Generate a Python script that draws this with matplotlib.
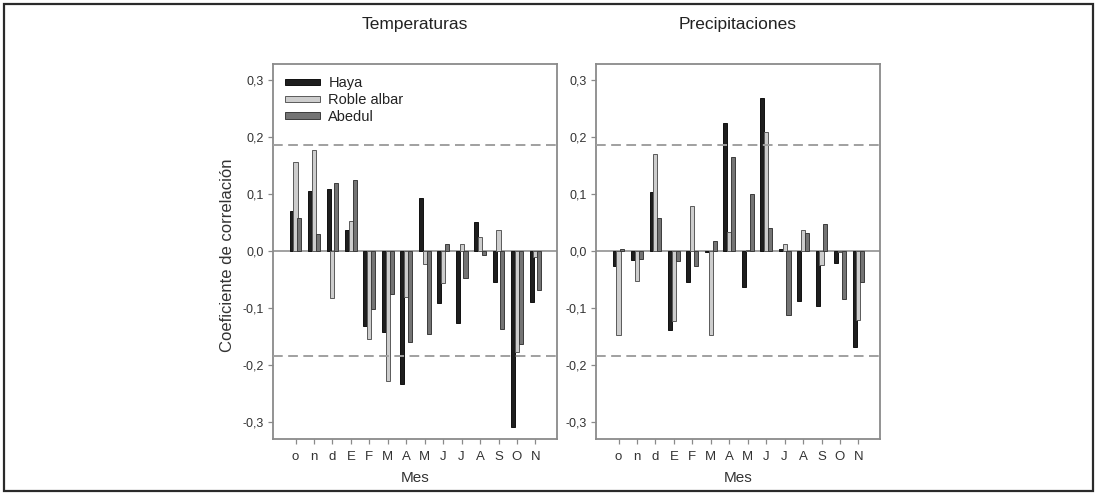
import matplotlib
matplotlib.use("Agg")
import matplotlib.pyplot as plt
from matplotlib.patches import Rectangle, Patch
import numpy as np

plt.rcParams['font.family'] = ['Liberation Sans', 'DejaVu Sans']

months = ["o", "n", "d", "E", "F", "M", "A", "M", "J", "J", "A", "S", "O", "N"]
species = ["Haya", "Roble albar", "Abedul"]

temp_haya   = [0.070, 0.105, 0.109, 0.036, -0.131, -0.143, -0.233, 0.093, -0.092, -0.126, 0.051, -0.054, -0.309, -0.090]
temp_roble  = [0.156, 0.177, -0.083, 0.052, -0.155, -0.229, -0.080, -0.023, -0.057, 0.012, 0.024, 0.036, -0.178, -0.010]
temp_abedul = [0.057, 0.030, 0.119, 0.124, -0.102, -0.075, -0.160, -0.146, 0.013, -0.047, -0.007, -0.137, -0.164, -0.068]

prec_haya   = [-0.026, -0.016, 0.104, -0.139, -0.055, -0.002, 0.225, -0.064, 0.268, 0.004, -0.087, -0.096, -0.021, -0.168]
prec_roble  = [-0.147, -0.053, 0.170, -0.123, 0.079, -0.148, 0.033, 0.002, 0.209, 0.012, 0.037, -0.024, -0.002, -0.122]
prec_abedul = [0.004, -0.014, 0.058, -0.018, -0.026, 0.018, 0.165, 0.100, 0.040, -0.112, 0.031, 0.048, -0.084, -0.054]

yticks = [-0.3, -0.2, -0.1, 0.0, 0.1, 0.2, 0.3]
ytick_labels = ["-0,3", "-0,2", "-0,1", "0,0", "0,1", "0,2", "0,3"]
signif = 0.185

colors = ["#1e1e1e", "#cdcdcd", "#747474"]
edges = ["#111111", "#5a5a5a", "#3c3c3c"]
txt = "#333333"
spine_c = "#8a8a8a"

W, H = 1097, 493
fig = plt.figure(figsize=(W / 100, H / 100), dpi=100)

ax_b = (H - 439) / H
ax_h = (439 - 64) / H
axes_specs = [
    (273 / W, "Temperaturas", [temp_haya, temp_roble, temp_abedul]),
    (596 / W, "Precipitaciones", [prec_haya, prec_roble, prec_abedul]),
]
aw = 284 / W

x = np.arange(len(months))
offsets = [-0.21, 0.0, 0.21]
bw = 0.22

for i, (left, title, series) in enumerate(axes_specs):
    ax = fig.add_axes([left, ax_b, aw, ax_h])
    for s, vals in enumerate(series):
        ax.bar(x + offsets[s], vals, width=bw, color=colors[s], edgecolor=edges[s],
               linewidth=0.7, zorder=3, label=species[s])
    ax.axhline(0, color="#9a9a9a", lw=1.3, zorder=2)
    for yv in (signif, -signif):
        ax.axhline(yv, color="#a0a0a0", lw=1.4, linestyle=(0, (5, 2.8)), zorder=4)
    ax.set_xlim(-1.22, 14.17)
    ax.set_ylim(-0.33, 0.328)
    ax.set_xticks(x)
    ax.set_xticklabels(months, fontsize=9.5, color=txt)
    ax.set_yticks(yticks)
    ax.set_yticklabels(ytick_labels, fontsize=9, color=txt)
    ax.tick_params(axis="both", direction="out", length=3.5, width=0.9, color=spine_c, pad=3)
    ax.tick_params(axis="x", pad=5)
    for sp in ax.spines.values():
        sp.set_color(spine_c)
        sp.set_linewidth(1.3)
    cx = left + aw / 2
    fig.text(cx, 1 - 25 / H, title, ha="center", va="center", fontsize=12.5, color="#222222")
    fig.text(cx, 1 - 478 / H, "Mes", ha="center", va="center", fontsize=11, color=txt)
    if i == 0:
        handles = [Patch(facecolor=colors[k], edgecolor=edges[k], linewidth=0.7) for k in range(3)]
        ax.legend(handles, species, loc="upper left", bbox_to_anchor=(0.0, 1.0),
                  frameon=False, fontsize=10.5, handlelength=2.4, handleheight=0.3,
                  handletextpad=0.55, labelspacing=0.18, borderaxespad=0.45,
                  labelcolor="#222222")

fig.text(228 / W, 1 - 255 / H, "Coeficiente de correlación", rotation=90,
         ha="center", va="center", fontsize=12, color=txt)

fig.patches.append(Rectangle((4 / W, 2 / H), 1089 / W, 487 / H, transform=fig.transFigure,
                             fill=False, edgecolor="#2a2a2a", linewidth=1.6))

fig.savefig("out.png", dpi=100)
